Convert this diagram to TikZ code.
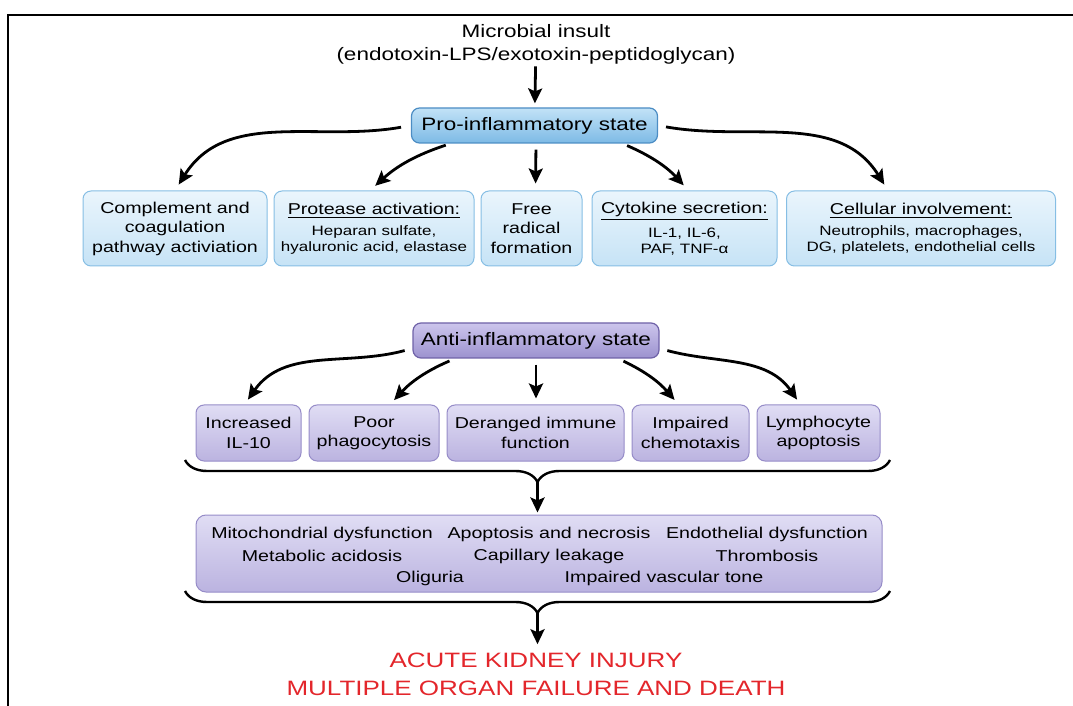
\documentclass[tikz,border=0pt]{standalone}
\usepackage{fontspec}
\setmainfont{Liberation Sans}[FakeStretch=1.25]
\usetikzlibrary{arrows.meta,decorations.pathreplacing}

\definecolor{protop}{HTML}{C2E2F7}
\definecolor{probot}{HTML}{7DBAE5}
\definecolor{proline}{HTML}{4C8DC4}
\definecolor{ptop}{HTML}{EAF5FC}
\definecolor{pbot}{HTML}{C6E3F6}
\definecolor{pline}{HTML}{86BEE4}
\definecolor{antitop}{HTML}{CCC5EC}
\definecolor{antibot}{HTML}{9C92CF}
\definecolor{antiline}{HTML}{6F62A8}
\definecolor{atop}{HTML}{E0DDF4}
\definecolor{abot}{HTML}{BBB3E0}
\definecolor{aline}{HTML}{968CC8}
\definecolor{akired}{HTML}{E3262B}

\newcommand\fsbig{\fontsize{9}{11.5}\selectfont}
\newcommand\fsmid{\fontsize{7.85}{9.75}\selectfont}
\newcommand\fssmall{\fontsize{6.8}{8}\selectfont}
\newcommand\fsred{\fontsize{10.4}{14}\selectfont}

\begin{document}
\begin{tikzpicture}[x=0.5pt,y=0.5pt,
    arr/.style={-{Stealth[length=7.5pt,width=7pt,inset=1.5pt]}, line width=1.4pt},
    statebox/.style={rounded corners=4pt, line width=0.6pt, inner sep=0pt,
        minimum width=123pt, minimum height=17.5pt, font=\fsbig},
    probox/.style={draw=pline, rounded corners=4pt, line width=0.5pt, top color=ptop,
        bottom color=pbot, inner sep=0pt, minimum height=37.5pt, align=center, font=\fsmid},
    antibox/.style={draw=aline, rounded corners=4pt, line width=0.5pt, top color=atop,
        bottom color=abot, inner sep=0pt, minimum height=28pt, align=center, font=\fsmid},
    txt/.style={inner sep=0pt, font=\fsmid},
    curly/.style={decorate, decoration={brace, mirror, amplitude=11pt}, line width=1.2pt}
]
\useasboundingbox (0,0) rectangle (1073,-706);
% frame
\draw[line width=1.2pt] (1073,-15) -- (8,-15) -- (8,-706);

\node[inner sep=0pt, align=center, font=\fsbig] (insult) at (536,-44) {Microbial insult\\(endotoxin-LPS/exotoxin-peptidoglycan)};

% pro-inflammatory part
\node[statebox, draw=proline, top color=protop, bottom color=probot] (pro) at (534.5,-125.5) {Pro-inflammatory state};
\node[probox, minimum width=92pt] (compl) at (175,-228.5) {Complement and\\coagulation\\pathway activiation};
\node[probox, minimum width=100pt, font=\fssmall] (prot) at (374,-228.5) {{\fsmid\underline{Protease activation:}}\\[2.5pt]Heparan sulfate,\\hyaluronic acid, elastase};
\node[probox, minimum width=50.5pt] (free) at (531.5,-228.5) {Free\\radical\\formation};
\node[probox, minimum width=92.5pt, font=\fssmall] (cyto) at (684.5,-228.5) {{\fsmid\underline{Cytokine secretion:}}\\[2.5pt]IL-1, IL-6,\\PAF, TNF-α};
\node[probox, minimum width=134.5pt, font=\fssmall] (cell) at (921,-228.5) {{\fsmid\underline{Cellular involvement:}}\\[2.5pt]Neutrophils, macrophages,\\DG, platelets, endothelial cells};

\draw[arr, shorten <=1pt, shorten >=2pt] (insult) -- (pro);
\draw[arr, shorten <=5pt, shorten >=3.5pt] (pro.west) to[out=190, in=58] (compl.north);
\draw[arr, shorten <=2.5pt, shorten >=3.5pt] ([xshift=-42pt]pro.south) to[bend right=12] ([xshift=-2pt]prot.north);
\draw[arr, shorten <=3pt, shorten >=3.5pt] ([xshift=0.75pt]pro.south) -- ([xshift=2pt]free.north);
\draw[arr, shorten <=2.5pt, shorten >=3.5pt] ([xshift=44pt]pro.south) to[bend left=12] ([xshift=2pt]cyto.north);
\draw[arr, shorten <=4pt, shorten >=3.5pt] (pro.east) to[out=-10, in=122] ([xshift=-16.5pt]cell.north);

% anti-inflammatory part
\node[statebox, draw=antiline, top color=antitop, bottom color=antibot] (anti) at (536,-340.5) {Anti-inflammatory state};
\node[antibox, minimum width=52.5pt] (il10) at (248.5,-433) {Increased\\IL-10};
\node[antibox, minimum width=65pt] (poor) at (374,-433) {Poor\\phagocytosis};
\node[antibox, minimum width=88.5pt] (immune) at (535.5,-433) {Deranged immune\\function};
\node[antibox, minimum width=58.5pt] (chemo) at (690.5,-433) {Impaired\\chemotaxis};
\node[antibox, minimum width=61.5pt] (lympho) at (818.5,-433) {Lymphocyte\\apoptosis};

\draw[arr, shorten <=4pt, shorten >=3pt] ([yshift=-4pt]anti.west) to[out=195, in=55] ([xshift=-2pt]il10.north);
\draw[arr, shorten <=3pt, shorten >=3pt] ([xshift=-40.5pt]anti.south) to[bend right=12] ([xshift=8pt]poor.north);
\draw[arr, shorten <=3pt, shorten >=3pt] (anti.south) -- ([xshift=0.25pt]immune.north);
\draw[arr, shorten <=3pt, shorten >=3pt] ([xshift=41pt]anti.south) to[bend left=12] ([xshift=-6pt]chemo.north);
\draw[arr, shorten <=4pt, shorten >=3pt] ([yshift=-4pt]anti.east) to[out=-15, in=125] ([xshift=-9pt]lympho.north);

\draw[curly] (185,-460) -- (890,-460);
\coordinate (tip1) at (537.5,-482);

% consequences
\node[draw=aline, rounded corners=5pt, line width=0.5pt, top color=atop, bottom color=abot,
    inner sep=0pt, minimum width=343pt, minimum height=38.5pt] (organ) at (539,-553.5) {};
\node[txt] (mito) at (322,-534) {Mitochondrial dysfunction};
\node[txt] (apop) at (549,-534) {Apoptosis and necrosis};
\node[txt] (endo) at (767,-534) {Endothelial dysfunction};
\node[txt] (acid) at (322,-556) {Metabolic acidosis};
\node[txt] (leak) at (549,-556) {Capillary leakage};
\node[txt] (thromb) at (767,-556) {Thrombosis};
\node[txt] (olig) at (430,-578) {Oliguria};
\node[txt] (tone) at (664,-578) {Impaired vascular tone};

\draw[arr, shorten >=1pt] (tip1) -- (tip1 |- organ.north);

\draw[curly] (185,-591) -- (890,-591);
\coordinate (tip2) at (537.5,-613);

\node[inner sep=0pt, align=center, font=\fsred, text=akired] (aki) at (536,-674) {ACUTE KIDNEY INJURY\\MULTIPLE ORGAN FAILURE AND DEATH};
\draw[arr, shorten >=4pt] (tip2) -- (tip2 |- aki.north);
\end{tikzpicture}
\end{document}
